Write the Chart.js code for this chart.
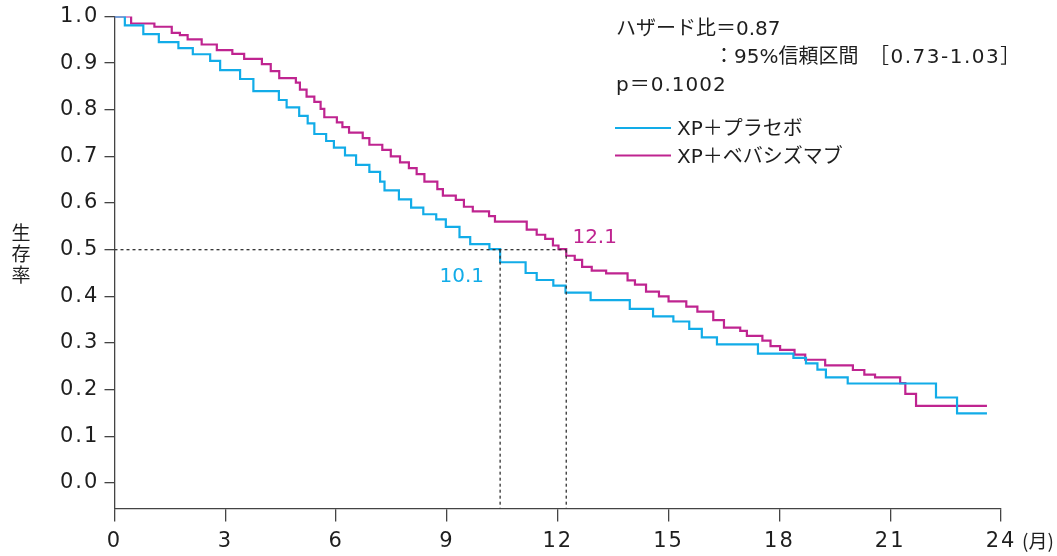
<!DOCTYPE html>
<html lang="ja">
<head>
<meta charset="utf-8">
<title>生存率</title>
<script src="https://cdn.jsdelivr.net/npm/chart.js"></script>
<style>
  body { margin: 0; background: #fff; }
  #grafico { display: block; }
</style>
</head>
<body>
<canvas id="grafico" width="1057" height="556"></canvas>
<script>
// ticks
const xTicks = [0, 3, 6, 9, 12, 15, 18, 21, 24];
const yTicks = [0.0, 0.1, 0.2, 0.3, 0.4, 0.5, 0.6, 0.7, 0.8, 0.9, 1.0];

// XP+プラセボ (月, 生存率)
const placeboTime = [0, 0.28, 0.78, 1.20, 1.73, 2.12, 2.59, 2.86, 3.40, 3.76, 4.45,
  4.66, 5.00, 5.23, 5.41, 5.73, 5.94, 6.24, 6.54, 6.90, 7.19,
  7.31, 7.70, 8.03, 8.36, 8.71, 8.97, 9.34, 9.63, 10.15, 10.44,
  11.13, 11.43, 11.88, 12.21, 12.89, 13.95, 14.58, 15.13, 15.56, 15.90,
  16.31, 17.42, 18.38, 18.72, 19.03, 19.26, 19.85, 22.24, 22.81, 23.62];
const placeboSurv = [1.0, 0.981, 0.962, 0.945, 0.932, 0.919, 0.905, 0.885, 0.866, 0.840, 0.821,
  0.805, 0.787, 0.771, 0.748, 0.733, 0.719, 0.702, 0.682, 0.667, 0.646,
  0.627, 0.608, 0.590, 0.576, 0.565, 0.549, 0.527, 0.512, 0.501, 0.473,
  0.450, 0.435, 0.423, 0.408, 0.392, 0.373, 0.357, 0.346, 0.330, 0.312,
  0.297, 0.277, 0.268, 0.256, 0.243, 0.226, 0.213, 0.183, 0.149, 0.149];

// XP+ベバシズマブ
const bevTime = [0, 0.45, 1.08, 1.55, 1.77, 1.98, 2.36, 2.77, 3.19, 3.51, 3.99,
  4.23, 4.46, 4.91, 5.02, 5.20, 5.41, 5.58, 5.68, 6.02, 6.17,
  6.35, 6.72, 6.90, 7.25, 7.48, 7.73, 7.97, 8.18, 8.39, 8.74,
  8.89, 9.24, 9.46, 9.70, 10.14, 10.30, 11.16, 11.43, 11.66, 11.87,
  12.02, 12.23, 12.46, 12.66, 12.92, 13.31, 13.89, 14.09, 14.39, 14.74,
  15.00, 15.48, 15.78, 16.21, 16.50, 16.94, 17.12, 17.54, 17.76, 18.02,
  18.41, 18.70, 19.24, 19.99, 20.30, 20.59, 21.27, 21.41, 21.70, 23.62];
const bevSurv = [1.0, 0.985, 0.978, 0.965, 0.960, 0.951, 0.940, 0.928, 0.920, 0.909, 0.898,
  0.883, 0.868, 0.858, 0.843, 0.828, 0.817, 0.802, 0.784, 0.773, 0.763,
  0.751, 0.739, 0.725, 0.714, 0.700, 0.687, 0.675, 0.662, 0.646, 0.630,
  0.616, 0.607, 0.592, 0.582, 0.572, 0.560, 0.543, 0.532, 0.523, 0.509,
  0.501, 0.487, 0.478, 0.463, 0.455, 0.449, 0.434, 0.425, 0.410, 0.400,
  0.389, 0.378, 0.367, 0.349, 0.333, 0.326, 0.315, 0.305, 0.293, 0.285,
  0.275, 0.264, 0.252, 0.242, 0.232, 0.226, 0.214, 0.191, 0.165, 0.165];

// 中央値
const medianPlacebo = 10.44;
const medianBev = 12.23;
const medianLabels = ['10.1', '12.1'];

const azul = '#12ace8';
const magenta = '#bf2490';
const tinta = '#1e1e1e';
const yMin = -0.055;

function pontos(ts, ss) {
  return ts.map((t, i) => ({ x: t, y: ss[i] }));
}

function tracejado(dados) {
  return {
    data: dados,
    borderColor: '#333',
    borderWidth: 1.3,
    borderDash: [3, 3],
    pointRadius: 0,
    fill: false,
    legenda: false
  };
}

// espaçamento das letras dos ticks (fonte original é mais larga)
const espacoPlugin = {
  id: 'espaco',
  beforeDraw(chart) { chart.ctx.letterSpacing = '2px'; },
  afterDraw(chart) { chart.ctx.letterSpacing = '0px'; }
};

const textosPlugin = {
  id: 'textos',
  afterDraw(chart) {
    const ctx = chart.ctx;
    const sx = chart.scales.x, sy = chart.scales.y;
    ctx.save();
    ctx.letterSpacing = '0px';
    ctx.fillStyle = tinta;
    ctx.textBaseline = 'alphabetic';
    ctx.font = '20px "DejaVu Sans", "Noto Sans CJK JP", sans-serif';
    ctx.fillText('ハザード比＝0.87', 616, 35);
    ctx.fillText('：95%信頼区間', 714, 63);
    ctx.letterSpacing = '1.5px';
    ctx.fillText('［0.73-1.03］', 869, 63);
    ctx.letterSpacing = '1px';
    ctx.fillText('p＝0.1002', 616, 91);
    ctx.letterSpacing = '0px';

    // legenda
    let ly = 128;
    chart.data.datasets.filter(d => d.legenda).forEach(d => {
      ctx.strokeStyle = d.borderColor;
      ctx.lineWidth = 2;
      ctx.beginPath();
      ctx.moveTo(615, ly);
      ctx.lineTo(671, ly);
      ctx.stroke();
      ctx.fillStyle = tinta;
      ctx.fillText(d.label, 677, ly + 7);
      ly += 27.5;
    });

    // medianas
    ctx.textAlign = 'center';
    ctx.fillStyle = azul;
    ctx.fillText(medianLabels[0], sx.getPixelForValue(9.4), sy.getPixelForValue(0.43));
    ctx.fillStyle = magenta;
    ctx.fillText(medianLabels[1], sx.getPixelForValue(13.0), sy.getPixelForValue(0.515));

    // eixo y titulo
    ctx.fillStyle = tinta;
    ctx.font = '19px "Noto Sans CJK JP", sans-serif';
    ctx.textBaseline = 'middle';
    ['生', '存', '率'].forEach((c, i) => ctx.fillText(c, 21, 233 + i * 21));

    ctx.textAlign = 'left';
    ctx.textBaseline = 'alphabetic';
    ctx.fillText('(月)', 1022, 548);
    ctx.restore();
  }
};

document.addEventListener('DOMContentLoaded', () => {
  Chart.defaults.font.family = '"DejaVu Sans", "Noto Sans CJK JP", sans-serif';
  Chart.defaults.font.size = 21;
  Chart.defaults.color = tinta;

  const ctx = document.getElementById('grafico').getContext('2d');
  new Chart(ctx, {
    type: 'line',
    data: {
      datasets: [
        tracejado([{ x: 0, y: 0.5 }, { x: medianBev, y: 0.5 }]),
        tracejado([{ x: medianPlacebo, y: 0.5 }, { x: medianPlacebo, y: yMin }]),
        tracejado([{ x: medianBev, y: 0.5 }, { x: medianBev, y: yMin }]),
        {
          label: 'XP＋プラセボ',
          data: pontos(placeboTime, placeboSurv),
          borderColor: azul,
          borderWidth: 2.2,
          stepped: true,
          pointRadius: 0,
          fill: false,
          legenda: true
        },
        {
          label: 'XP＋ベバシズマブ',
          data: pontos(bevTime, bevSurv),
          borderColor: magenta,
          borderWidth: 2.2,
          stepped: true,
          pointRadius: 0,
          fill: false,
          legenda: true
        }
      ]
    },
    options: {
      responsive: false,
      animation: false,
      devicePixelRatio: 1,
      layout: { padding: { left: 60, right: 56, top: 16.5, bottom: 0 } },
      plugins: {
        legend: { display: false },
        tooltip: { enabled: false }
      },
      scales: {
        x: {
          type: 'linear',
          min: 0,
          max: 24,
          afterFit: s => { s.height = 47.5; },
          afterBuildTicks: s => { s.ticks = xTicks.map(v => ({ value: v })); },
          grid: { drawOnChartArea: false, drawTicks: true, tickLength: 13, color: '#444', lineWidth: 1.3 },
          border: { display: true, color: '#444', width: 1.3 },
          ticks: { padding: 7, maxRotation: 0, callback: v => String(v) }
        },
        y: {
          type: 'linear',
          min: yMin,
          max: 1.0,
          afterFit: s => { s.width = 54.5; },
          afterBuildTicks: s => { s.ticks = yTicks.map(v => ({ value: v })); },
          grid: { drawOnChartArea: false, drawTicks: true, tickLength: 10, color: '#444', lineWidth: 1.3 },
          border: { display: true, color: '#444', width: 1.3 },
          ticks: { crossAlign: 'far', callback: v => v.toFixed(1) }
        }
      }
    },
    plugins: [espacoPlugin, textosPlugin]
  });
});
</script>
</body>
</html>
